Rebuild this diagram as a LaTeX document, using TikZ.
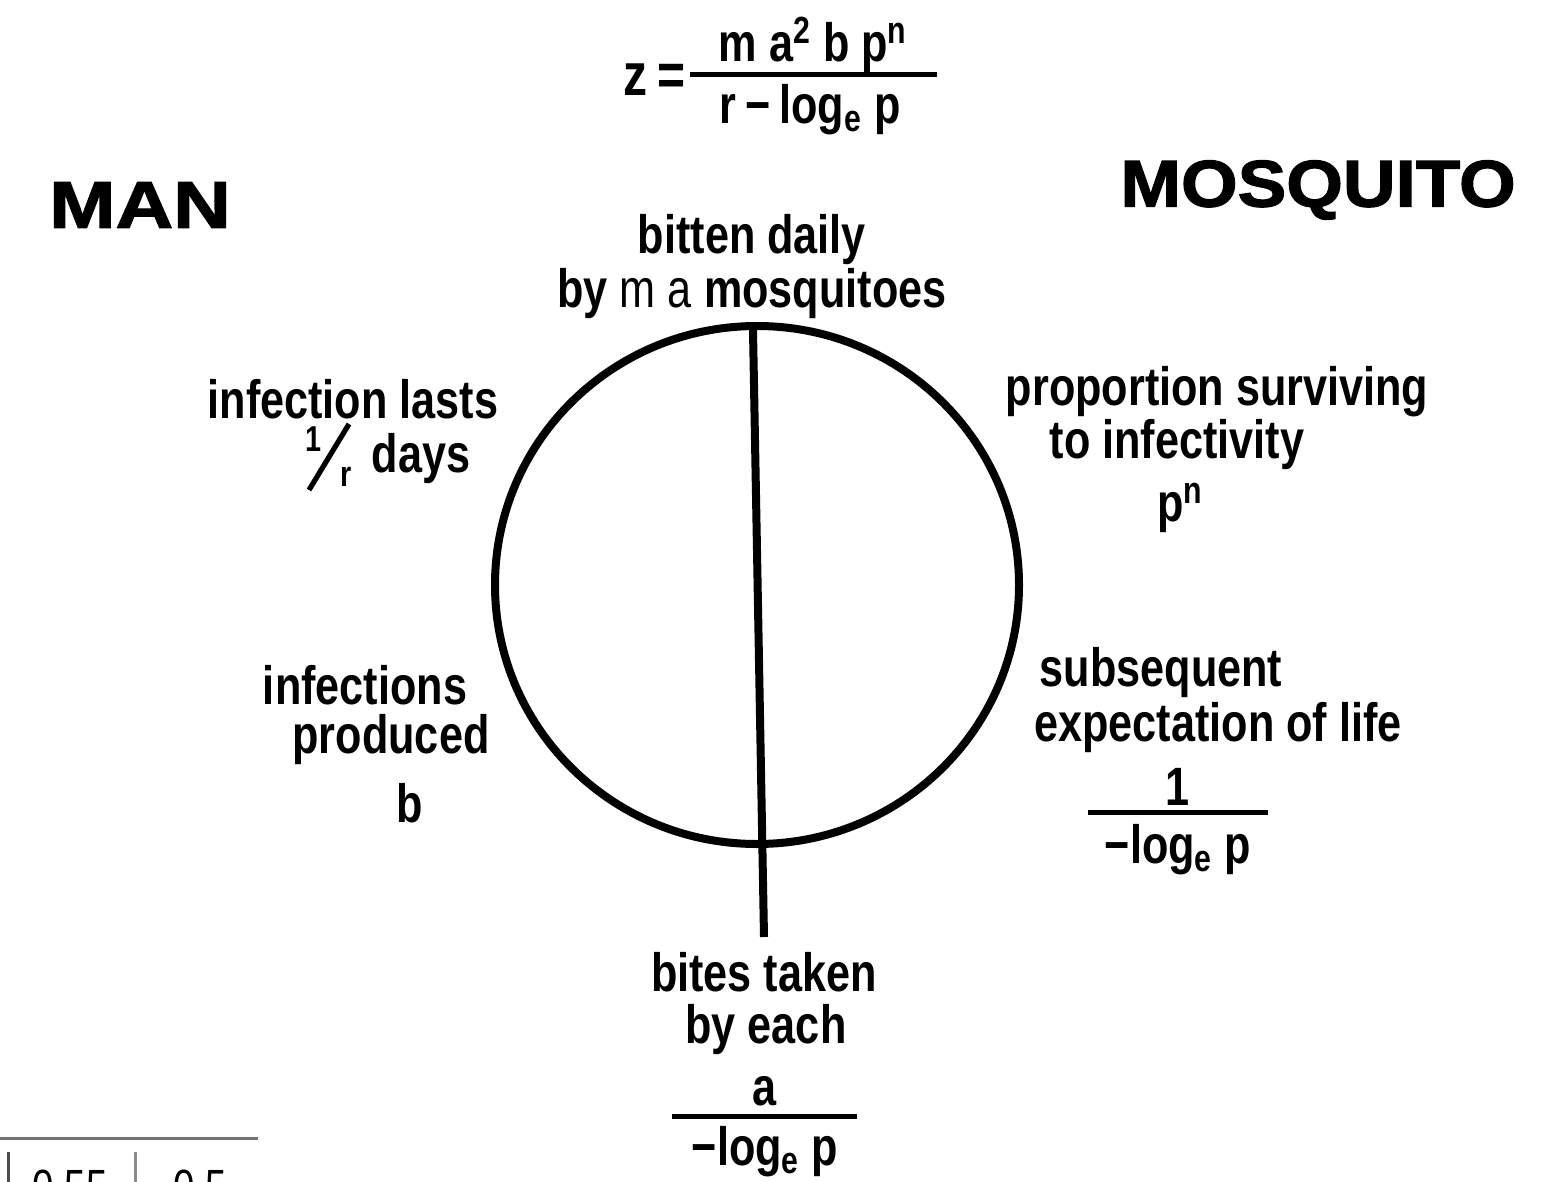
\documentclass[tikz,border=0pt]{standalone}
\usepackage{fontspec}
\setmainfont{Liberation Sans}
\newfontfamily\cond[FakeStretch=0.8]{Liberation Sans}
\newfontfamily\wide[FakeStretch=1.15,FakeBold=2]{Liberation Sans}
\begin{document}
\begin{tikzpicture}[x=0.5pt,y=-0.5pt,
  lab/.style={font=\cond\bfseries\fontsize{27}{27}\selectfont, align=center, inner sep=0pt},
  small/.style={font=\cond\bfseries\fontsize{18}{18}\selectfont, inner sep=0pt},
  big/.style={font=\wide\bfseries\fontsize{33}{33}\selectfont, inner sep=0pt},
  bar/.style={line width=2.5pt},
  ring/.style={line width=4pt}]
\useasboundingbox (0,0) rectangle (1553,1182);
\begin{scope}
\clip (0,0) rectangle (1553,1182);
% formula
\node[lab, font=\cond\bfseries\fontsize{30}{30}\selectfont] (zeq) at (655,80) {z\,=};
\node[lab] (fnum) at (813,45) {m a\textsuperscript{2} b p\textsuperscript{n}};
\node[lab] (fden) at (810,110) {r\,−\,log\textsubscript{e} p};
\draw[bar] (690,75) -- (937,75);
% titles
\node[big] (man) at (140,205) {\scalebox{1.05}[1]{MAN}};
\node[big] (mosq) at (1318,190) {\scalebox{0.96}[1]{MOSQUITO}};
% circle and line
\coordinate (cc) at (757,585);
\draw[ring] (cc) ellipse [x radius=131pt, y radius=129.5pt];
\coordinate (ltop) at (753,330);
\coordinate (lbot) at (764,937);
\draw[ring] (ltop) -- (lbot);
% labels
\node[lab] (bitten) at (752,267) {bitten daily\\by {\mdseries m a} mosquitoes};
\node[lab] (inf1) at (353,399) {infection lasts};
\node[small] (one) at (314,439) {1};
\node[small] (rr) at (346,477) {r};
\coordinate (slA) at (309,490);
\coordinate (slB) at (349,424);
\draw[line width=2.6pt] (slA) -- (slB);
\node[lab] (inf2) at (421,459) {days};
\node[lab] (prop1) at (1217,392) {proportion surviving};
\node[lab] (prop2) at (1177,445) {to infectivity};
\node[lab] (prop3) at (1180,508) {p\textsuperscript{n}};
\node[lab] (infp1) at (365,685) {infections};
\node[lab] (infp2) at (391,740) {produced};
\node[lab] (infp3) at (410,803) {b};
\node[lab] (sub1) at (1161,673) {subsequent};
\node[lab] (sub2) at (1218,728) {expectation of life};
\node[lab] (subn) at (1177,787) {1};
\draw[bar] (1088,812) -- (1268,812);
\node[lab] (subd) at (1178,850) {−log\textsubscript{e} p};
\node[lab] (bites1) at (764,972) {bites taken};
\node[lab] (bites2) at (766,1030) {by each};
\node[lab] (bitesn) at (765,1091) {a};
\draw[bar] (672,1116) -- (857,1116);
\node[lab] (bitesd) at (765,1152) {−log\textsubscript{e} p};
% table fragment
\draw[line width=1.5pt, black!55] (0,1138) -- (258,1138);
\draw[line width=1.5pt, black!70] (8,1152) -- (8,1182);
\draw[line width=1.5pt, black!45] (135,1152) -- (135,1182);
\node[lab, font=\cond\fontsize{24}{24}\selectfont, anchor=north] (t1) at (70,1170) {0.55};
\node[lab, font=\cond\fontsize{24}{24}\selectfont, anchor=north] (t2) at (200,1170) {0.5};
\end{scope}
\end{tikzpicture}
\end{document}
